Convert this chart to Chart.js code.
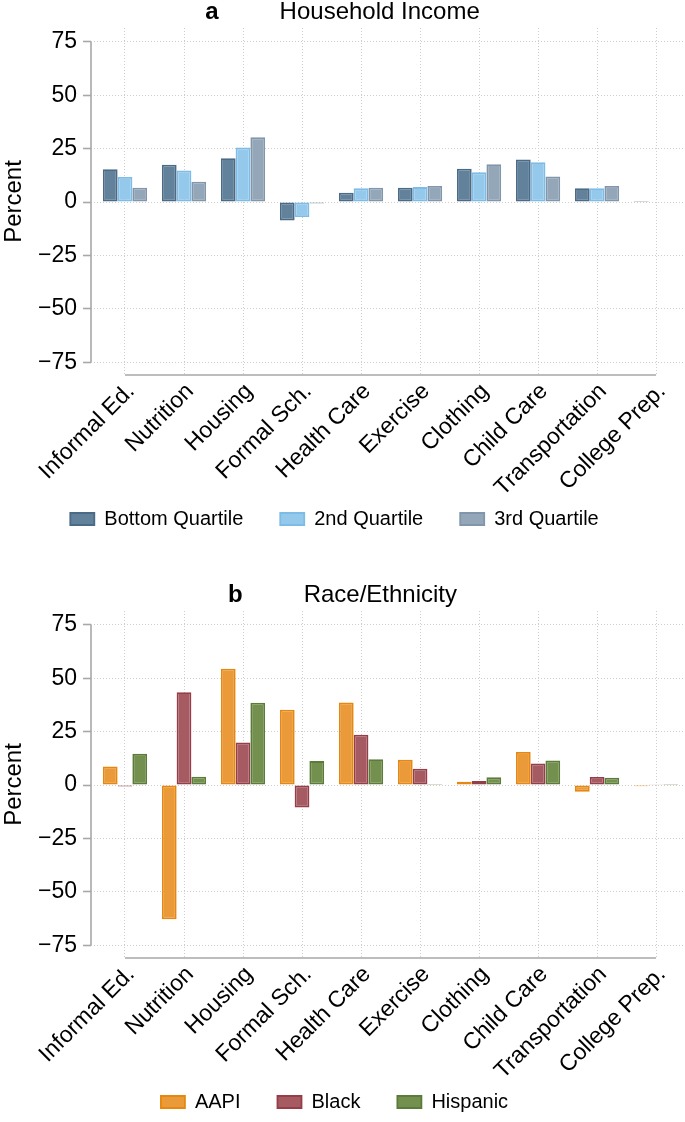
<!DOCTYPE html>
<html>
<head>
<meta charset="utf-8">
<title>Household Income / Race-Ethnicity</title>
<script src="https://cdn.jsdelivr.net/npm/chart.js@4.4.1/dist/chart.umd.min.js"></script>
<style>
  html, body { margin: 0; padding: 0; background: #fff; }
  .painel { position: relative; width: 685px; }
  #painelA { height: 583px; }
  #painelB { height: 539px; }
</style>
</head>
<body>
<div class="painel" id="painelA"><canvas id="chartIncome"></canvas></div>
<div class="painel" id="painelB"><canvas id="chartRace"></canvas></div>
<script>
// categorias e valores
const categories = ['Informal Ed.', 'Nutrition', 'Housing', 'Formal Sch.', 'Health Care',
  'Exercise', 'Clothing', 'Child Care', 'Transportation', 'College Prep.'];
const yTicks = [-75, -50, -25, 0, 25, 50, 75];

const incomeLabels = ['Bottom Quartile', '2nd Quartile', '3rd Quartile'];
const bottomQuartile = [15.4, 17.5, 20.5, -8.6, 4.4, 6.7, 15.6, 19.9, 6.5, 0.5];
const secondQuartile = [11.7, 14.8, 25.5, -7.0, 6.4, 7.0, 13.9, 18.6, 6.5, 0.2];
const thirdQuartile = [6.7, 9.5, 30.3, -0.7, 6.7, 7.5, 17.7, 12.0, 7.5, 0.3];

const raceLabels = ['AAPI', 'Black', 'Hispanic'];
const aapi = [8.7, -62.9, 54.5, 35.3, 38.7, 11.8, 1.5, 15.5, -3.1, -0.6];
const black = [-0.7, 43.5, 19.9, -10.5, 23.6, 7.6, 1.9, 10.1, 3.8, 0.4];
const hispanic = [14.6, 3.9, 38.5, 11.2, 12.1, 0.5, 3.6, 11.5, 3.4, 0.5];

const FONTE = '"Liberation Sans", Arial, Helvetica, sans-serif';
const MENOS = '\u2212';

// === eixos no estilo Stata + titulo do painel ===
const molduraStata = {
  id: 'molduraStata',
  afterLayout(chart) {
    // legenda um pouco mais a esquerda, como no original
    if (chart.legend) { chart.legend.left -= 8; chart.legend.right -= 8; }
  },
  afterDraw(chart, args, opts) {
    const { ctx, chartArea, scales: { x, y } } = chart;
    ctx.save();
    ctx.strokeStyle = '#a8a8a8';
    ctx.lineWidth = 1.6;
    ctx.beginPath();
    ctx.moveTo(chartArea.left, y.getPixelForValue(yTicks[yTicks.length - 1]));
    ctx.lineTo(chartArea.left, y.getPixelForValue(yTicks[0]));
    ctx.moveTo(x.getPixelForValue(0), chartArea.bottom);
    ctx.lineTo(x.getPixelForValue(categories.length - 1), chartArea.bottom);
    ctx.stroke();

    ctx.fillStyle = '#000';
    ctx.textBaseline = 'alphabetic';
    ctx.textAlign = 'left';
    ctx.font = 'bold 24px ' + FONTE;
    const wLetra = ctx.measureText(opts.letra).width;
    ctx.font = '24px ' + FONTE;
    const wTexto = ctx.measureText(opts.texto).width;
    const gap = 61;
    const x0 = (chart.width - (wLetra + gap + wTexto)) / 2;
    ctx.font = 'bold 24px ' + FONTE;
    ctx.fillText(opts.letra, x0, 18.5);
    ctx.font = '24px ' + FONTE;
    ctx.fillText(opts.texto, x0 + wLetra + gap, 18.5);
    ctx.restore();
  }
};

function criarPainel(id, letra, texto, labels, series, cores, bordas, padBottom) {
  const datasets = series.map((serie, k) => ({
    label: labels[k],
    data: serie.map((v, i) => ({ x: i, y: v })),
    backgroundColor: cores[k],
    borderColor: bordas[k],
    borderWidth: 1.8,
    borderSkipped: false,
    categoryPercentage: 0.75,
    barPercentage: 1.0
  }));

  return new Chart(document.getElementById(id), {
    type: 'bar',
    data: { datasets: datasets },
    plugins: [molduraStata],
    options: {
      responsive: true,
      maintainAspectRatio: false,
      animation: false,
      layout: { padding: { top: 28, left: 0, right: 0, bottom: padBottom } },
      plugins: {
        molduraStata: { letra: letra, texto: texto },
        title: { display: false },
        tooltip: { enabled: false },
        legend: {
          position: 'bottom',
          labels: {
            boxWidth: 24,
            boxHeight: 12,
            padding: 37,
            color: '#000',
            font: { family: FONTE, size: 20 }
          }
        }
      },
      scales: {
        x: {
          type: 'linear',
          offset: false,
          min: -0.576,
          max: 9.49,
          afterBuildTicks: (s) => { s.ticks = categories.map((c, i) => ({ value: i })); },
          afterFit: (s) => {
            s.height = 97;
            // os rotulos inclinados passam por cima da area da legenda: sem recorte
            s._computeLabelArea = () => undefined;
          },
          grid: { offset: false, drawTicks: false, color: '#cdcdcd', lineWidth: 1 },
          border: { display: false, dash: [1, 2] },
          ticks: {
            autoSkip: false,
            maxRotation: 45,
            minRotation: 45,
            padding: 3,
            labelOffset: 6,
            color: '#000',
            font: { family: FONTE, size: 23 },
            callback: (v) => categories[v]
          }
        },
        y: {
          min: -81,
          max: 81.5,
          afterBuildTicks: (s) => { s.ticks = yTicks.map(v => ({ value: v })); },
          afterFit: (s) => { s.width = 91; },
          grid: { color: '#cdcdcd', lineWidth: 1, tickLength: 8, tickColor: '#a8a8a8', tickWidth: 1.6 },
          border: { display: false, dash: [1, 2] },
          title: {
            display: true,
            text: 'Percent',
            color: '#000',
            padding: { top: 0, bottom: 0 },
            font: { family: FONTE, size: 24 }
          },
          ticks: {
            padding: 6,
            color: '#000',
            font: { family: FONTE, size: 23 },
            callback: (v) => (v < 0 ? MENOS + Math.abs(v) : String(v))
          }
        }
      }
    }
  });
}

criarPainel('chartIncome', 'a', 'Household Income', incomeLabels,
  [bottomQuartile, secondQuartile, thirdQuartile],
  ['#62819a', '#94c9ec', '#94a7b9'],
  ['#4b6a86', '#7dbce7', '#8296ab'], 44);

criarPainel('chartRace', 'b', 'Race/Ethnicity', raceLabels,
  [aapi, black, hispanic],
  ['#ea9a39', '#a65b63', '#74904f'],
  ['#e6870f', '#953e48', '#5b7b3b'], 0);
</script>
</body>
</html>
